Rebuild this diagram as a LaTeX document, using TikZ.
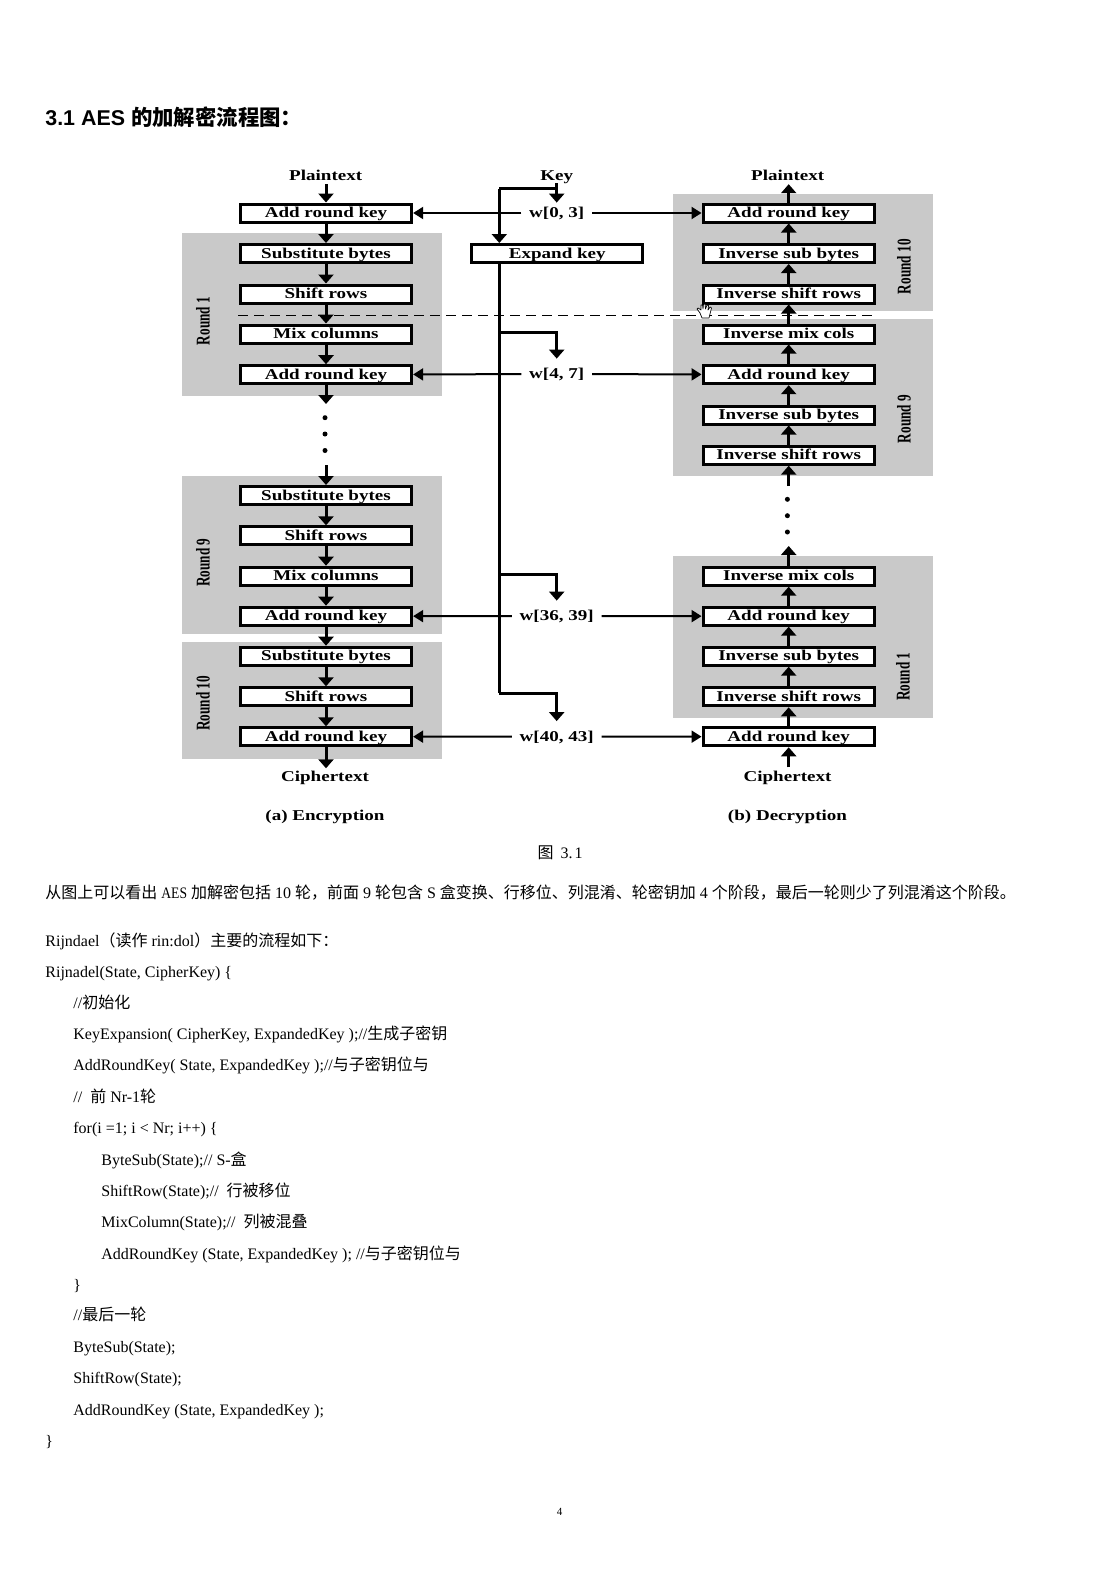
\documentclass[tikz,border=0pt]{standalone}
\usepackage{fontspec}
\usepackage{graphicx}
\usetikzlibrary{arrows.meta}
\setmainfont{Liberation Serif}
\newfontfamily\cjk{Noto Sans CJK SC}
\newfontfamily\headfont{Liberation Sans}
\newfontfamily\diagfont[FakeStretch=1.27]{Liberation Serif}
\newcommand{\Z}[1]{{\cjk\fontsize{8pt}{9pt}\selectfont #1}}
\newcommand{\ZB}[1]{{\cjk\bfseries #1}}
\newcommand{\NR}[1]{\scalebox{0.85}[1]{#1}}
\definecolor{roundgray}{HTML}{C9C9C9}
\tikzset{
  x=0.5pt,y=-0.5pt,
  roundbg/.style={fill=roundgray,draw=none},
  stage/.style={draw=black,line width=1.5pt,fill=white,minimum width=85.65pt,minimum height=9pt,inner sep=0pt,text height=6pt,text depth=1.4pt,font=\diagfont\bfseries\fontsize{7.5pt}{8pt}\selectfont},
  lab/.style={inner sep=0pt,text height=5.5pt,text depth=1.8pt,font=\diagfont\bfseries\fontsize{7.5pt}{8pt}\selectfont},
  wlab/.style={inner ysep=0pt,inner xsep=3.7pt,text height=6pt,text depth=1.4pt,minimum height=15pt,font=\diagfont\bfseries\fontsize{7.5pt}{8pt}\selectfont},
  rlab/.style={inner sep=0pt,font=\bfseries\fontsize{7.5pt}{8pt}\selectfont},
  flow/.style={line width=1.5pt,-{Triangle[length=4.5pt,width=7.5pt]}},
  keyarrow/.style={line width=1pt,-{Triangle[length=5pt,width=6pt]}},
  trunk/.style={line width=1.5pt},
  dotn/.style={circle,fill=black,inner sep=0pt,minimum size=2.5pt},
  body/.style={anchor=west,inner sep=0pt,text height=6pt,text depth=2pt,yshift=0.5pt,font=\fontsize{8pt}{9pt}\selectfont},
}
\newcommand{\RL}[1]{\rotatebox{90}{\scalebox{0.88}[1.3]{#1}}}
\begin{document}
\begin{tikzpicture}
\useasboundingbox (0,0) rectangle (1119,1584);
\fill[white] (0,0) rectangle (1119,1584);
% grey rounds
\fill[roundbg] (181.7,233.3) rectangle (442.3,395.7);
\fill[roundbg] (181.7,475.7) rectangle (442.3,633.7);
\fill[roundbg] (181.7,641.7) rectangle (442.3,758.7);
\fill[roundbg] (672.7,193.7) rectangle (933.3,311);
\fill[roundbg] (672.7,319) rectangle (933.3,476);
\fill[roundbg] (672.7,556) rectangle (933.3,718);
% title
\node[anchor=west,inner sep=0pt,font=\headfont\bfseries\fontsize{10.7pt}{12pt}\selectfont] (title) at (45,117.5) {3.1 AES \ZB{的加解密流程图：}};
% left column
\node[lab] (ptl) at (325.7,176.5) {Plaintext};
\node[stage] (la1) at (326,213) {Add round key};
\node[stage] (ls1) at (326,253.5) {Substitute bytes};
\node[stage] (lr1) at (326,294) {Shift rows};
\node[stage] (lm1) at (326,334) {Mix columns};
\node[stage] (lb1) at (326,374.7) {Add round key};
\node[stage] (ls9) at (326,495.5) {Substitute bytes};
\node[stage] (lr9) at (326,535.8) {Shift rows};
\node[stage] (lm9) at (326,576.2) {Mix columns};
\node[stage] (lb9) at (326,616.2) {Add round key};
\node[stage] (ls10) at (326,656.2) {Substitute bytes};
\node[stage] (lr10) at (326,696.8) {Shift rows};
\node[stage] (lb10) at (326,736.8) {Add round key};
\node[lab] (ctl) at (325,778) {Ciphertext};
\node[lab] (capa) at (325,816.5) {(a) Encryption};
% right column
\node[lab] (ptr) at (787.7,176.5) {Plaintext};
\node[stage] (ra10) at (788.7,213) {Add round key};
\node[stage] (rs10) at (788.7,253.5) {Inverse sub bytes};
\node[stage] (rr10) at (788.7,294) {Inverse shift rows};
\node[stage] (rm9) at (788.7,334) {Inverse mix cols};
\node[stage] (ra9) at (788.7,374.7) {Add round key};
\node[stage] (rs9) at (788.7,415) {Inverse sub bytes};
\node[stage] (rr9) at (788.7,455.2) {Inverse shift rows};
\node[stage] (rm1) at (788.7,576.2) {Inverse mix cols};
\node[stage] (ra1) at (788.7,616.2) {Add round key};
\node[stage] (rs1) at (788.7,656.2) {Inverse sub bytes};
\node[stage] (rr1) at (788.7,696.8) {Inverse shift rows};
\node[stage] (ra0) at (788.7,736.8) {Add round key};
\node[lab] (ctr) at (787.5,778) {Ciphertext};
\node[lab] (capb) at (787.5,816.5) {(b) Decryption};
% centre
\node[lab] (key) at (556.7,176.5) {Key};
\node[stage] (ek) at (557.3,253.5) {Expand key};
\node[wlab] (w0) at (556.7,213) {w[0, 3]};
\node[wlab] (w4) at (556.7,374) {w[4, 7]};
\node[wlab] (w36) at (556.7,616) {w[36, 39]};
\node[wlab] (w40) at (556.7,736.5) {w[40, 43]};
% round labels
\node[rlab] (r1l) at (203,321) {\RL{Round 1}};
\node[rlab] (r9l) at (203,562.7) {\RL{Round 9}};
\node[rlab] (r10l) at (203,703.3) {\RL{Round 10}};
\node[rlab] (r10r) at (904,266.7) {\RL{Round 10}};
\node[rlab] (r9r) at (904,419) {\RL{Round 9}};
\node[rlab] (r1r) at (903,676.7) {\RL{Round 1}};
% dots
\node[dotn] (d1) at (325,417.7) {};
\node[dotn] (d2) at (325,434) {};
\node[dotn] (d3) at (325,450.5) {};
\node[dotn] (d4) at (787.4,499.3) {};
\node[dotn] (d5) at (787.4,515.7) {};
\node[dotn] (d6) at (787.4,532) {};
% free ends
\coordinate (lout) at (326,404);
\coordinate (lin) at (326,465);
\coordinate (rout) at (788.7,486);
\coordinate (rin) at (788.7,546);
\coordinate (rstart) at (788.7,767.3);
\coordinate (dashl) at (238,315.3);
\coordinate (dashr) at (875.7,315.3);
\coordinate (kb) at (556.7,188.7);
\coordinate (tr) at (499.3,693.3);
\coordinate (br4) at (499.3,332.7);
\coordinate (br36) at (499.3,574);
% left flow
\draw[flow] (ptl.south -| la1) -- (la1.north);
\draw[flow] (la1) -- (ls1);
\draw[flow] (ls1) -- (lr1);
\draw[flow] (lr1) -- (lm1);
\draw[flow] (lm1) -- (lb1);
\draw[flow] (lb1) -- (lout);
\draw[flow] (lin) -- (ls9);
\draw[flow] (ls9) -- (lr9);
\draw[flow] (lr9) -- (lm9);
\draw[flow] (lm9) -- (lb9);
\draw[flow] (lb9) -- (ls10);
\draw[flow] (ls10) -- (lr10);
\draw[flow] (lr10) -- (lb10);
\draw[flow,shorten >=1pt] (lb10) -- (ctl.north -| lb10);
% right flow
\draw[flow] (ra10.north) -- (ptr.south -| ra10);
\draw[flow] (rs10) -- (ra10);
\draw[flow] (rr10) -- (rs10);
\draw[flow] (rm9) -- (rr10);
\draw[flow] (ra9) -- (rm9);
\draw[flow] (rs9) -- (ra9);
\draw[flow] (rr9) -- (rs9);
\draw[flow] (rout) -- (rr9);
\draw[flow] (rm1) -- (rin);
\draw[flow] (ra1) -- (rm1);
\draw[flow] (rs1) -- (ra1);
\draw[flow] (rr1) -- (rs1);
\draw[flow] (ra0) -- (rr1);
\draw[flow] (rstart) -- (ra0);
% key schedule
\draw[flow,shorten >=-2.5pt,shorten <=-0.5pt] (key.south) -- (w0.north);
\draw[trunk] (kb) -- (kb -| tr);
\draw[flow] (kb -| tr) -- (ek.north -| tr);
\draw[trunk] (ek.south -| tr) -- (tr);
\draw[flow] (br4) -| (w4.north);
\draw[flow] (br36) -| (w36.north);
\draw[flow] (tr) -| (w40.north);
\draw[keyarrow] (w0) -- (la1);
\draw[keyarrow] (w0) -- (ra10);
\draw[keyarrow] (w4) -- (lb1);
\draw[keyarrow] (w4) -- (ra9);
\draw[keyarrow] (w36) -- (lb9);
\draw[keyarrow] (w36) -- (ra1);
\draw[keyarrow] (w40) -- (lb10);
\draw[keyarrow] (w40) -- (ra0);
\draw[line width=0.5pt,dash pattern=on 5pt off 3pt] (dashl) -- (dashr);
% hand cursor
\begin{scope}[shift={(697,304)}]
\draw[fill=white,line width=0.35pt,line join=round] (3,9) -- (0,5) -- (1,4) -- (4,6) -- (4,1) -- (5.5,1) -- (6,5) -- (6.5,0) -- (8,0) -- (8.5,5) -- (10,1) -- (11.5,1.5) -- (11,6) -- (13,3) -- (14.5,4) -- (13,10) -- (12,14) -- (5,14) -- cycle;
\end{scope}
% body text
\node[inner sep=0pt,font=\fontsize{8pt}{9pt}\selectfont] (fig) at (560,853) {\Z{图}\hspace{3.5pt}3.\hspace{1pt}1};
\node[body] (t1) at (45,895) {\Z{从图上可以看出} \NR{AES} \Z{加解密包括} 10 \Z{轮，前面} 9 \Z{轮包含} S \Z{盒变换、行移位、列混淆、轮密钥加} 4 \Z{个阶段，最后一轮则少了列混淆这个阶段。}};
\node[body] (t2) at (45,943) {Rijndael\Z{（读作} rin:dol\Z{）主要的流程如下：}};
\node[body] (t3) at (45,974) {Rijnadel(State, CipherKey) \{};
\node[body] (t4) at (73,1005) {//\Z{初始化}};
\node[body] (t5) at (73,1036) {KeyExpansion( CipherKey, ExpandedKey );//\Z{生成子密钥}};
\node[body] (t6) at (73,1067) {AddRoundKey( State, ExpandedKey );//\Z{与子密钥位与}};
\node[body] (t7) at (73,1099) {// \ \Z{前} Nr-1\Z{轮}};
\node[body] (t8) at (73,1130) {for(i =1; i < Nr; i++) \{};
\node[body] (t9) at (101,1162) {ByteSub(State);// S-\Z{盒}};
\node[body] (t10) at (101,1193) {ShiftRow(State);// \ \Z{行被移位}};
\node[body] (t11) at (101,1224) {MixColumn(State);// \ \Z{列被混叠}};
\node[body] (t12) at (101,1256) {AddRoundKey (State, ExpandedKey ); //\Z{与子密钥位与}};
\node[body] (t13) at (73,1287) {\}};
\node[body] (t14) at (73,1317) {//\Z{最后一轮}};
\node[body] (t15) at (73,1349) {ByteSub(State);};
\node[body] (t16) at (73,1380) {ShiftRow(State);};
\node[body] (t17) at (73,1412) {AddRoundKey (State, ExpandedKey );};
\node[body] (t18) at (45,1443) {\}};
\node[inner sep=0pt,font=\fontsize{5.5pt}{6pt}\selectfont] (pg) at (559.5,1511.5) {4};
\end{tikzpicture}
\end{document}
